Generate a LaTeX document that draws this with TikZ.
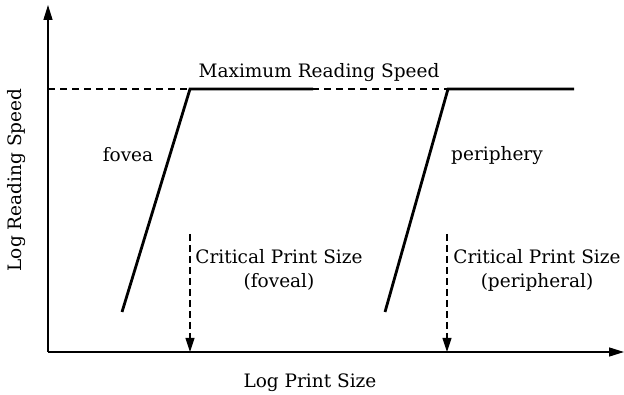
\documentclass[tikz,border=0pt]{standalone}
\usepackage{fontspec}
\setmainfont{DejaVu Serif}
\usetikzlibrary{arrows.meta}
\begin{document}
\begin{tikzpicture}[x=1pt,y=-1pt,
  axis/.style={line width=1.4pt,-{Triangle[length=15pt,width=9pt]}},
  curve/.style={line width=2.8pt},
  guide/.style={line width=1.1pt,dash pattern=on 7pt off 5pt},
  marker/.style={line width=1.1pt,dash pattern=on 7pt off 4pt,-{Triangle[length=14pt,width=9pt]}},
  lbl/.style={font=\fontsize{18.5}{24}\selectfont,inner sep=0pt}]
\useasboundingbox (0,0) rectangle (624,395);
\coordinate (O) at (48,352);
\coordinate (Ytop) at (48,5);
\coordinate (Xend) at (624,352);
\coordinate (Mleft) at (48,89);
\coordinate (Mright) at (450,89);
\coordinate (F0) at (122,312);
\coordinate (F1) at (190,89);
\coordinate (F2) at (313,89);
\coordinate (P0) at (385,312);
\coordinate (P1) at (448,89);
\coordinate (P2) at (574,89);
\coordinate (CF0) at (190,234);
\coordinate (CF1) at (190,352);
\coordinate (CP0) at (447,234);
\coordinate (CP1) at (447,352);
\draw[guide] (Mleft) -- (Mright);
\draw[axis] (O) -- (Ytop);
\draw[axis] (O) -- (Xend);
\draw[curve] (F0) -- (F1) -- (F2);
\draw[curve] (P0) -- (P1) -- (P2);
\draw[marker] (CF0) -- (CF1);
\draw[marker] (CP0) -- (CP1);
\node[lbl] (max) at (319,73) {Maximum Reading Speed};
\node[lbl] (fov) at (128,155) {fovea};
\node[lbl] (per) at (497,156) {periphery};
\node[lbl,align=center] (cf) at (279,270) {Critical Print Size\\(foveal)};
\node[lbl,align=center] (cp) at (537,270) {Critical Print Size\\(peripheral)};
\node[lbl] (xl) at (310,383) {Log Print Size};
\node[lbl,rotate=90] (yl) at (17,180) {Log Reading Speed};
\end{tikzpicture}
\end{document}
